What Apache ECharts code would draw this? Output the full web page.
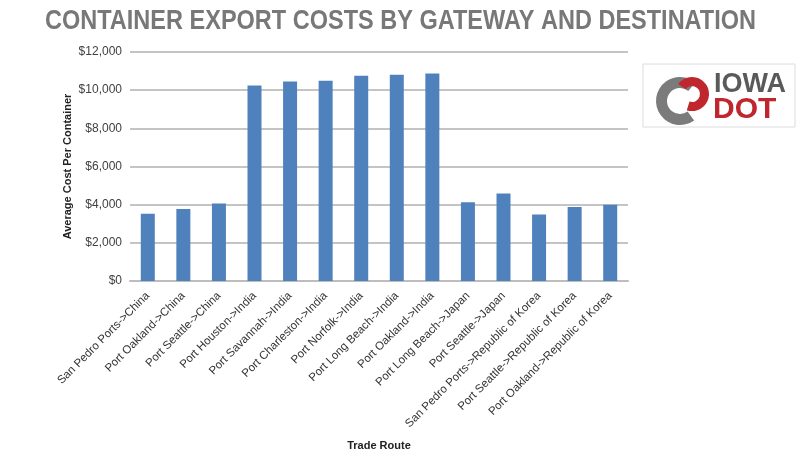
<!DOCTYPE html>
<html><head><meta charset="utf-8">
<script src="https://cdn.jsdelivr.net/npm/echarts@6/dist/echarts.min.js"></script>
<style>html,body{margin:0;padding:0;background:#fff}#c{width:800px;height:452px}</style>
</head><body><div id="c"></div>
<script>
var categories = ["San Pedro Ports->China","Port Oakland->China","Port Seattle->China","Port Houston->India","Port Savannah->India","Port Charleston->India","Port Norfolk->India","Port Long Beach->India","Port Oakland->India","Port Long Beach->Japan","Port Seattle->Japan","San Pedro Ports->Republic of Korea","Port Seattle->Republic of Korea","Port Oakland->Republic of Korea"];
var costs = [3530, 3770, 4060, 10240, 10450, 10490, 10760, 10810, 10870, 4130, 4590, 3480, 3880, 4000];
var yTicks = [0, 2000, 4000, 6000, 8000, 10000, 12000];
var titleText = "CONTAINER EXPORT COSTS BY GATEWAY AND DESTINATION";

var titleFont = 'bold 28px "Liberation Sans", sans-serif';
var cv = document.createElement('canvas').getContext('2d');
cv.font = titleFont;
var tw = cv.measureText(titleText).width;
var titleScale = 711 / tw;

var chart = echarts.init(document.getElementById('c'));
chart.setOption({
  animation: false,
  grid: {left: 130, right: 172, top: 52, bottom: 171, containLabel: false, outerBoundsMode: 'none'},
  xAxis: {
    type: 'category', data: categories,
    name: 'Trade Route', nameLocation: 'middle', nameGap: 159, nameMoveOverlap: false,
    nameTextStyle: {fontFamily: 'Liberation Sans, sans-serif', fontWeight: 'bold', fontSize: 11, color: '#222'},
    axisLine: {lineStyle: {color: '#bdbdbd', width: 2}},
    axisTick: {show: false},
    axisLabel: {rotate: 45, interval: 0, fontSize: 11.5, color: '#333', fontFamily: 'Liberation Sans, sans-serif', margin: 13}
  },
  yAxis: {
    type: 'value', min: yTicks[0], max: yTicks[yTicks.length - 1], interval: yTicks[1] - yTicks[0],
    name: 'Average Cost Per Container', nameLocation: 'middle', nameGap: 57, nameMoveOverlap: false,
    nameTextStyle: {fontFamily: 'Liberation Sans, sans-serif', fontWeight: 'bold', fontSize: 11, color: '#222'},
    axisLine: {show: false}, axisTick: {show: false},
    splitLine: {lineStyle: {color: '#c4c4c4', width: 2}},
    axisLabel: {fontSize: 12, color: '#404040', fontFamily: 'Liberation Sans, sans-serif', margin: 8,
      formatter: function (v) { return '$' + v.toLocaleString('en-US'); }}
  },
  series: [{
    type: 'bar', data: costs, barWidth: 14,
    itemStyle: {color: '#4f81bd'}
  }],
  graphic: [
    {type: 'text', x: 45, y: 7, scaleX: titleScale, scaleY: 1,
      style: {text: titleText, font: titleFont, fill: '#787878'}},
    {type: 'rect', shape: {x: 643, y: 64, width: 152, height: 63}, style: {fill: '#fff', stroke: '#dcdcdc', lineWidth: 1}},
    {type: 'sector', shape: {cx: 680, cy: 101, r: 24, r0: 13, startAngle: Math.PI * 0.3, endAngle: Math.PI * 1.72, clockwise: true}, style: {fill: '#7b7b7b'}},
    {type: 'sector', shape: {cx: 692, cy: 94, r: 17, r0: 8, startAngle: -Math.PI * 0.8, endAngle: Math.PI * 0.6, clockwise: true}, style: {fill: '#c0262d'}},
    {type: 'text', x: 714, y: 71, style: {text: 'IOWA', fontFamily: 'Liberation Sans, sans-serif', fontWeight: 'bold', fontSize: 27, fill: '#5a5a5a'}},
    {type: 'text', x: 713, y: 95, style: {text: 'DOT', fontFamily: 'Liberation Sans, sans-serif', fontWeight: 'bold', fontSize: 30, fill: '#c0262d'}}
  ]
});
</script></body></html>
